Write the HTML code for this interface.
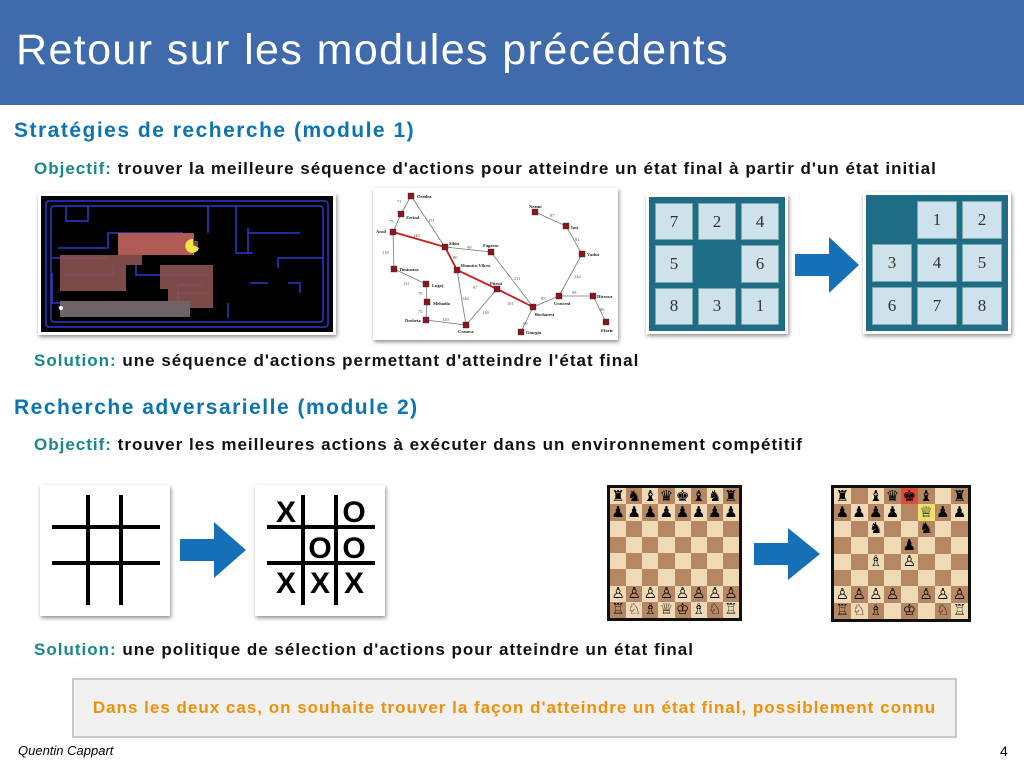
<!DOCTYPE html>
<html><head><meta charset="utf-8"><style>
*{margin:0;padding:0;box-sizing:border-box}
body{width:1024px;height:768px;position:relative;background:#fff;font-family:"Liberation Sans","DejaVu Sans",sans-serif;overflow:hidden}
.abs{position:absolute}
.title{left:0;top:0;width:1024px;height:105px;background:#3f6aab;color:#fff;font-size:43px;letter-spacing:1.4px;padding:26px 0 0 16px}
.h{color:#0b74b5;font-weight:bold;font-size:21px;letter-spacing:1.5px;left:14px}
.t{font-weight:bold;font-size:17px;letter-spacing:1px;color:#111;left:34px;white-space:nowrap}
.t b{color:#16888a}
.img{background:#fff;box-shadow:1px 2px 4px rgba(0,0,0,.45)}
.pz{background:#1f6c86;display:grid;grid-template-columns:repeat(3,1fr);gap:5px;padding:6px}
.pz div{background:#cfe1eb;border:1px solid #7aa;font-family:"Liberation Serif",serif;font-size:17px;display:flex;align-items:center;justify-content:center;color:#333}
.pz div.e{background:transparent;border:none}
.board{display:grid;grid-template-columns:repeat(8,1fr);grid-template-rows:repeat(8,1fr);border:3px solid #111}
.board div{display:flex;align-items:center;justify-content:center;font-size:15px;line-height:1;overflow:hidden}
</style></head><body>
<div class="abs title">Retour sur les modules précédents</div>
<div class="abs h" style="top:119px">Stratégies de recherche (module 1)</div>
<div class="abs t" style="top:159px"><b>Objectif:</b> trouver la meilleure séquence d'actions pour atteindre un état final à partir d'un état initial</div>

<svg class="abs img" style="left:38px;top:193px" width="298" height="142" viewBox="0 0 298 142">
<rect x="3" y="3" width="292" height="136" fill="#000"/>
<g fill="none" stroke="#2a3bd0" stroke-width="1.5">
<rect x="8" y="8" width="282" height="126" rx="3"/>
<rect x="13" y="13" width="272" height="116" rx="3"/>
<path d="M28 13 V28 H50 V13 M170 13 V40 M198 13 V60 H215 M210 40 H262 M210 60 V35 M240 75 V65 H285 M250 90 H262 V100 M230 90 H212 M190 110 V125 M20 55 H70 V40 H145 M14 65 H70 M14 80 V110 H140 V92 H165 M25 82 H75 V72 M98 70 V82 H172 M140 100 H168 M125 108 V114 H20"/>
</g>
<path d="M22 62 H108 V48 H160 V58 H104 V72 H175 V115 H140 V122 H22 V108 H130 V96 H122 V72 H88 V98 H22 Z" fill="#8a5250" opacity=".9"/>
<rect x="80" y="40" width="76" height="22" fill="#b05a55"/>
<rect x="22" y="108" width="130" height="16" fill="#6e6468"/>
<circle cx="23" cy="115" r="2" fill="#fff"/>
<path d="M155 46 a7 7 0 1 0 6 9 l-6 -3z" fill="#f4e640"/>
</svg>

<svg class="abs img" style="left:373px;top:188px" width="245" height="152" viewBox="373 188 245 152" font-family="Liberation Serif,serif" font-size="4.5">
<rect x="373" y="188" width="245" height="152" fill="#fff"/>
<g stroke="#777" stroke-width=".8" fill="none">
<path d="M411 196 L401 214 L393 232 L394 269 L426 284 L427 302 L426 320 L466 325 L457 270 M411 196 L445 247 L491 252 L533 307 L521 332 M466 325 L497 289 M533 307 L559 296 L593 296 L606 322 M559 296 L582 254 L566 226 L535 212"/>
</g>
<path d="M393 232 L445 247 L457 270 L497 289 L533 307" stroke="#d01818" stroke-width="1.8" fill="none"/>
<g fill="#8a1420" stroke="#333" stroke-width=".4">
<rect x="408" y="193" width="6" height="6"/><rect x="398" y="211" width="6" height="6"/><rect x="390" y="229" width="6" height="6"/><rect x="391" y="266" width="6" height="6"/><rect x="423" y="281" width="6" height="6"/><rect x="424" y="299" width="6" height="6"/><rect x="423" y="317" width="6" height="6"/><rect x="463" y="322" width="6" height="6"/><rect x="442" y="244" width="6" height="6"/><rect x="488" y="249" width="6" height="6"/><rect x="454" y="267" width="6" height="6"/><rect x="494" y="286" width="6" height="6"/><rect x="530" y="304" width="6" height="6"/><rect x="518" y="329" width="6" height="6"/><rect x="556" y="293" width="6" height="6"/><rect x="590" y="293" width="6" height="6"/><rect x="603" y="319" width="6" height="6"/><rect x="579" y="251" width="6" height="6"/><rect x="563" y="223" width="6" height="6"/><rect x="532" y="209" width="6" height="6"/>
</g>
<g fill="#222" font-weight="bold">
<text x="417" y="198">Oradea</text><text x="406" y="219">Zerind</text><text x="376" y="233">Arad</text><text x="399" y="271">Timisoara</text><text x="432" y="287">Lugoj</text><text x="433" y="305">Mehadia</text><text x="405" y="322">Drobeta</text><text x="458" y="333">Craiova</text><text x="449" y="245">Sibiu</text><text x="483" y="247">Fagaras</text><text x="461" y="267">Rimnicu Vilcea</text><text x="490" y="285">Pitesti</text><text x="535" y="316">Bucharest</text><text x="526" y="334">Giurgiu</text><text x="554" y="305">Urziceni</text><text x="597" y="298">Hirsova</text><text x="601" y="332">Eforie</text><text x="587" y="256">Vaslui</text><text x="571" y="229">Iasi</text><text x="529" y="208">Neamt</text>
</g>
<g fill="#555"><text x="397" y="203">71</text><text x="389" y="223">75</text><text x="428" y="222">151</text><text x="413" y="237">140</text><text x="382" y="254">118</text><text x="403" y="285">111</text><text x="418" y="295">70</text><text x="418" y="313">75</text><text x="442" y="321">120</text><text x="462" y="300">146</text><text x="453" y="259">80</text><text x="467" y="249">99</text><text x="473" y="289">97</text><text x="482" y="314">138</text><text x="507" y="305">101</text><text x="514" y="280">211</text><text x="541" y="300">85</text><text x="523" y="325">90</text><text x="572" y="294">98</text><text x="600" y="311">86</text><text x="574" y="278">142</text><text x="575" y="241">92</text><text x="550" y="217">87</text></g>
</svg>

<div class="abs img" style="left:646px;top:194px;width:142px;height:140px;padding:3px"><div class="pz" style="width:136px;height:134px"><div>7</div><div>2</div><div>4</div><div>5</div><div class="e"></div><div>6</div><div>8</div><div>3</div><div>1</div></div></div>
<svg class="abs" style="left:795px;top:237px" width="64" height="56"><path d="M0 17 H34 V0 L64 28 L34 56 V39 H0Z" fill="#1570b8"/></svg>
<div class="abs img" style="left:863px;top:192px;width:148px;height:142px;padding:3px"><div class="pz" style="width:142px;height:136px"><div class="e"></div><div>1</div><div>2</div><div>3</div><div>4</div><div>5</div><div>6</div><div>7</div><div>8</div></div></div>

<div class="abs t" style="top:351px"><b>Solution:</b> une séquence d'actions permettant d'atteindre l'état final</div>
<div class="abs h" style="top:396px">Recherche adversarielle (module 2)</div>
<div class="abs t" style="top:435px"><b>Objectif:</b> trouver les meilleures actions à exécuter dans un environnement compétitif</div>

<svg class="abs img" style="left:40px;top:485px" width="130" height="131"><g stroke="#000" stroke-width="4"><line x1="48" y1="10" x2="48" y2="120"/><line x1="81" y1="10" x2="81" y2="120"/><line x1="12" y1="42" x2="120" y2="42"/><line x1="12" y1="78" x2="120" y2="78"/></g></svg>
<svg class="abs" style="left:180px;top:522px" width="66" height="56"><path d="M0 17 H34 V0 L66 28 L34 56 V39 H0Z" fill="#1570b8"/></svg>
<svg class="abs img" style="left:255px;top:485px" width="130" height="131" font-family="Liberation Sans,sans-serif" font-weight="bold" font-size="30" text-anchor="middle"><g stroke="#000" stroke-width="4"><line x1="48" y1="10" x2="48" y2="120"/><line x1="81" y1="10" x2="81" y2="120"/><line x1="12" y1="42" x2="120" y2="42"/><line x1="12" y1="78" x2="120" y2="78"/></g>
<text x="31" y="37">X</text><text x="99" y="37">O</text><text x="65" y="73">O</text><text x="99" y="73">O</text><text x="31" y="108">X</text><text x="65" y="108">X</text><text x="99" y="108">X</text></svg>

<div class="abs board" id="b1" style="left:607px;top:485px;width:135px;height:136px"></div>
<svg class="abs" style="left:754px;top:528px" width="66" height="52"><path d="M0 15 H34 V0 L66 26 L34 52 V37 H0Z" fill="#1570b8"/></svg>
<div class="abs board" id="b2" style="left:831px;top:485px;width:140px;height:137px"></div>

<div class="abs t" style="top:640px"><b>Solution:</b> une politique de sélection d'actions pour atteindre un état final</div>
<div class="abs" style="left:72px;top:678px;width:885px;height:60px;background:#f1f1f1;border:2px solid #c8c8c8;color:#f0900a;font-weight:bold;font-size:17px;letter-spacing:1px;white-space:nowrap;text-align:center;line-height:56px">Dans les deux cas, on souhaite trouver la façon d'atteindre un état final, possiblement connu</div>
<div class="abs" style="left:18px;top:743px;font-style:italic;font-size:13px">Quentin Cappart</div>
<div class="abs" style="left:1000px;top:743px;font-size:14px">4</div>
<script>
function mk(id,rows,hl){var b=document.getElementById(id),h='';for(var r=0;r<8;r++)for(var c=0;c<8;c++){var bg=(r+c)%2?'#b58863':'#f0d9b5';if(hl&&hl[r+','+c])bg=hl[r+','+c];var p=rows[r][c];if(p==='.')p='';h+='<div style="background:'+bg+'">'+p+'</div>';}b.innerHTML=h;}
mk('b1',['♜♞♝♛♚♝♞♜','♟♟♟♟♟♟♟♟','........','........','........','........','♙♙♙♙♙♙♙♙','♖♘♗♕♔♗♘♖']);
mk('b2',['♜.♝♛♚♝.♜','♟♟♟♟.♕♟♟','..♞..♞..','....♟...','..♗.♙...','........','♙♙♙♙.♙♙♙','♖♘♗.♔.♘♖'],{'0,4':'#e04a3a','1,5':'#f0e070'});
</script>
</body></html>
